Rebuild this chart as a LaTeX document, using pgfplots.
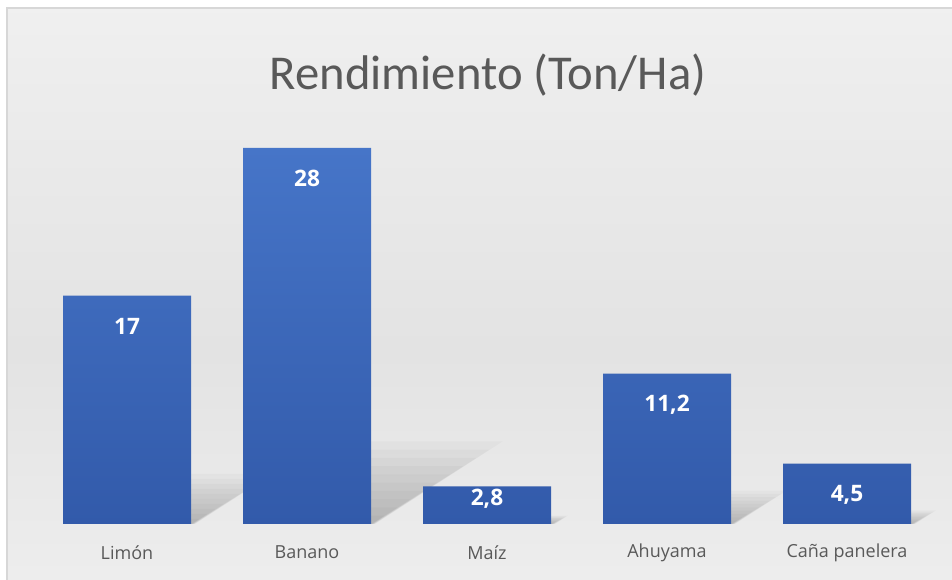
\documentclass[border=0pt]{standalone}
\usepackage{fontspec}
\setmainfont{Open Sans}
\newfontfamily\titlefont{Carlito}
\usepackage{pgfplots}
\pgfplotsset{compat=1.18}

\definecolor{barTop}{RGB}{70,117,200}
\definecolor{barBot}{RGB}{50,90,170}
\definecolor{txt}{RGB}{89,89,89}
\definecolor{frame}{RGB}{215,215,215}

\pgfdeclareverticalshading{bgshade}{100bp}{
  color(0bp)=(white!98!black);
  color(15bp)=(white!95!black);
  color(45bp)=(white!89!black);
  color(70bp)=(white!93!black);
  color(100bp)=(white!99!black)}

% values, label text, label offset (pt)
\pgfplotstableread{
x y lab shift
0 17 17 -23.25
1 28 28 -23.25
2 2.8 {2,8} -9
3 11.2 {11,2} -23.25
4 4.5 {4,5} -23.25
}\rendtab

\begin{document}
\begin{tikzpicture}[x=0.75pt,y=0.75pt]
\useasboundingbox (0,0) rectangle (952,580);
% chart area (px, y from bottom)
\fill[white] (0,0) rectangle (952,580);
\shade[shading=bgshade] (7,0) rectangle (952,572);
\draw[frame, line width=1.5pt] (7,0) -- (7,572) -- (952,572);

% soft shadows behind bars: stacked translucent slices
\foreach \xl/\h in {63/228, 243/376, 423/38, 603/152, 783/62}{
  \foreach \f in {0.1,0.2,...,1.0}{
    \pgfmathsetmacro{\shx}{0.34*\h*\f}
    \pgfmathsetmacro{\shy}{0.22*\h*\f}
    \pgfmathsetmacro{\pad}{4*\f}
    \fill[black, opacity=0.022]
      (\xl,56) -- (\xl+128+\pad,56) -- (\xl+128+\shx+\pad,56+\shy) -- (\xl+\shx,56+\shy) -- cycle;
  }
}

\node[font=\titlefont\fontsize{36.5}{42}\selectfont, text=txt] at (488,505) {Rendimiento (Ton/Ha)};

\begin{axis}[
    at={(27.75pt,42pt)}, anchor=south west,
    scale only axis,
    width=675pt, height=302.25pt,
    xmin=-0.5, xmax=4.5,
    ymin=0, ymax=30,
    axis line style={draw=none},
    tick style={draw=none},
    ytick=\empty,
    xtick=data,
    xticklabels={Limón, Banano, Maíz, Ahuyama, Caña panelera},
    xticklabel style={font=\fontsize{13.5}{16}\selectfont, text=txt, anchor=center, yshift=-21.5pt},
    clip=false,
]
\addplot[ybar, bar width=96pt, draw=none, top color=barTop, bottom color=barBot,
    point meta=explicit symbolic,
    visualization depends on={\thisrow{shift} \as \myshift},
    nodes near coords,
    every node near coord/.append style={font=\bfseries\fontsize{17}{20}\selectfont, text=white, anchor=center, yshift=\myshift pt},
] table[x=x, y=y, meta=lab] {\rendtab};
\end{axis}
\end{tikzpicture}
\end{document}
